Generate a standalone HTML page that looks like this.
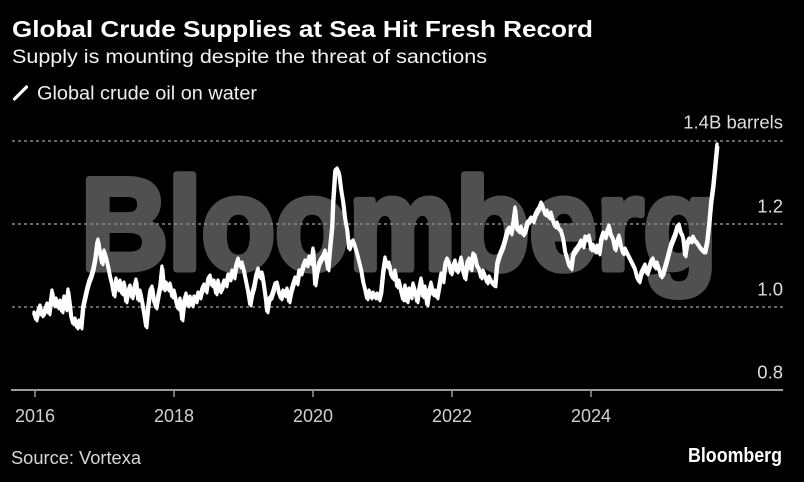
<!DOCTYPE html>
<html>
<head>
<meta charset="utf-8">
<style>
  html,body{margin:0;padding:0;background:#000;}
  svg{display:block;}
  text{font-family:"Liberation Sans", "DejaVu Sans", sans-serif;}
</style>
</head>
<body>
<svg width="804" height="482" viewBox="0 0 804 482" xmlns="http://www.w3.org/2000/svg">
  <defs>
    <polyline id="series" fill="none" stroke-linejoin="round" stroke-linecap="round" points="
34,312 36,318 38,310 40,305 42,314 44,311 47,303 49,312 52,290 54,304 56,298 58,306 60,300 62,310 64,296 66,308 68,289 70,305 71,315 73,322 75,318 77,326 79,320 81,326 83,305 85,296 87,287 89,280 91,275 93,268 95,258 97,242 98,239 100,252 102,262 104,250 106,256 108,265 110,275 112,283 114,294 116,278 118,288 120,280 122,292 124,282 126,300 128,290 130,285 132,296 134,287 136,279 138,298 140,290 142,300 144,312 146,325 148,305 150,290 152,286 154,300 156,306 158,295 160,285 162,266 164,288 166,282 168,288 170,283 172,295 174,290 176,300 178,307 180,298 182,318 184,300 186,293 188,304 190,296 192,304 194,296 196,300 198,292 200,296 202,288 204,284 206,290 208,278 210,275 212,284 214,280 216,292 218,280 220,290 222,286 224,280 226,284 228,274 230,278 232,270 234,276 236,264 238,258 240,265 242,262 244,270 246,280 248,290 250,303 252,292 254,285 256,274 258,268 260,276 262,272 264,285 266,300 267,310 269,298 271,296 273,290 275,283 277,282 279,292 281,297 283,290 285,294 287,288 289,300 291,290 293,283 295,277 297,282 299,270 301,272 303,265 305,260 307,264 309,256 311,262 313,248 315,283 317,270 319,262 321,258 323,255 325,250 327,262 328,268 330,245 332,225 333,200 335,170 337,168 339,172 341,188 343,200 345,217 347,228 349,247 351,242 353,240 355,245 357,252 359,260 361,268 363,280 365,288 367,297 369,290 371,296 373,292 375,296 377,293 379,298 381,290 383,270 385,257 387,265 389,262 391,273 393,277 395,270 397,285 399,280 401,290 403,298 405,285 407,300 409,288 411,296 413,283 415,290 417,300 419,288 421,278 423,295 425,286 427,303 429,290 431,282 433,293 435,290 437,296 439,285 441,273 443,280 445,263 447,258 449,262 451,272 453,265 455,260 457,270 459,266 461,257 463,270 465,277 467,262 469,258 471,268 473,253 475,255 477,265 479,268 481,276 483,270 485,275 487,281 489,276 491,280 493,283 495,284 497,262 499,255 501,250 503,245 505,238 507,230 509,227 511,232 513,222 515,207 517,228 519,230 521,226 523,233 525,230 527,222 529,220 531,217 533,220 535,214 537,210 539,207 541,202 543,206 545,213 547,210 549,216 551,212 553,220 555,225 557,222 559,228 561,230 563,237 565,250 567,257 569,264 571,267 573,253 575,250 577,247 579,244 581,240 583,245 585,236 587,238 589,235 591,248 593,244 595,250 597,245 599,252 601,238 603,232 605,236 607,230 609,225 611,234 613,238 615,248 617,240 619,235 621,245 623,252 625,248 627,252 629,256 631,260 633,264 635,268 637,276 639,280 641,272 643,268 645,264 647,272 649,266 651,260 653,258 655,266 657,262 659,268 661,275 663,272 665,265 667,258 669,250 671,243 673,238 675,233 677,226 679,224 681,232 683,236 685,254 687,242 689,238 691,240 693,236 695,240 697,242 699,245 701,248 703,250 705,250 707,240 709,222 711,200 713,185 715,165 717,144"/>
  </defs>
  <rect x="0" y="0" width="804" height="482" fill="#000"/>

  <!-- Titles -->
  <text x="12" y="37" font-size="23" font-weight="bold" fill="#ffffff" textLength="581" lengthAdjust="spacingAndGlyphs">Global Crude Supplies at Sea Hit Fresh Record</text>
  <text x="12" y="63" font-size="19.5" fill="#f2f2f2" textLength="475" lengthAdjust="spacingAndGlyphs">Supply is mounting despite the threat of sanctions</text>

  <!-- Legend -->
  <line x1="14.5" y1="99" x2="26.5" y2="87" stroke="#ffffff" stroke-width="3.2" stroke-linecap="round"/>
  <text x="37" y="99.5" font-size="19" fill="#eeeeee" textLength="220" lengthAdjust="spacingAndGlyphs">Global crude oil on water</text>

  <!-- Watermark -->
  <text x="81" y="269" font-size="130" font-weight="bold" fill="#505050" stroke="#505050" stroke-width="7" stroke-linejoin="round" textLength="636" lengthAdjust="spacingAndGlyphs">Bloomberg</text>

  <!-- Gridlines -->
  <g stroke="#8a8a8a" stroke-width="1.4" stroke-dasharray="3,3">
    <line x1="12" y1="141" x2="783" y2="141"/>
    <line x1="12" y1="224" x2="783" y2="224"/>
    <line x1="12" y1="307" x2="783" y2="307"/>
  </g>

  <!-- Y labels -->
  <g font-size="18.5" fill="#dddddd" text-anchor="end">
    <text x="783" y="128.5">1.4B barrels</text>
    <text x="783" y="212.5">1.2</text>
    <text x="783" y="295.5">1.0</text>
    <text x="783" y="378.5">0.8</text>
  </g>

  <!-- X axis -->
  <line x1="11" y1="390" x2="783" y2="390" stroke="#9a9a9a" stroke-width="2"/>
  <g stroke="#9a9a9a" stroke-width="1.5">
    <line x1="35" y1="390" x2="35" y2="397"/>
    <line x1="174" y1="390" x2="174" y2="397"/>
    <line x1="313" y1="390" x2="313" y2="397"/>
    <line x1="452" y1="390" x2="452" y2="397"/>
    <line x1="591" y1="390" x2="591" y2="397"/>
  </g>
  <g font-size="18" fill="#d0d0d0" text-anchor="middle">
    <text x="35" y="422">2016</text>
    <text x="174" y="422">2018</text>
    <text x="313" y="422">2020</text>
    <text x="452" y="422">2022</text>
    <text x="591" y="422">2024</text>
  </g>

  <!-- Series (offset passes to mimic noisy weekly data band) -->
  <use href="#series" stroke="#ffffff" stroke-width="3.2"/>
  <use href="#series" stroke="#ffffff" stroke-width="2.8" transform="translate(1,3)"/>
  <use href="#series" stroke="#ffffff" stroke-width="2.2" transform="translate(-0.8,1.5)"/>

  <!-- Footer -->
  <text x="11" y="464" font-size="18" fill="#d8d8d8" textLength="130" lengthAdjust="spacingAndGlyphs">Source: Vortexa</text>
  <text x="782" y="462" font-size="20" font-weight="bold" fill="#ffffff" text-anchor="end" textLength="94" lengthAdjust="spacingAndGlyphs">Bloomberg</text>
</svg>
</body>
</html>
